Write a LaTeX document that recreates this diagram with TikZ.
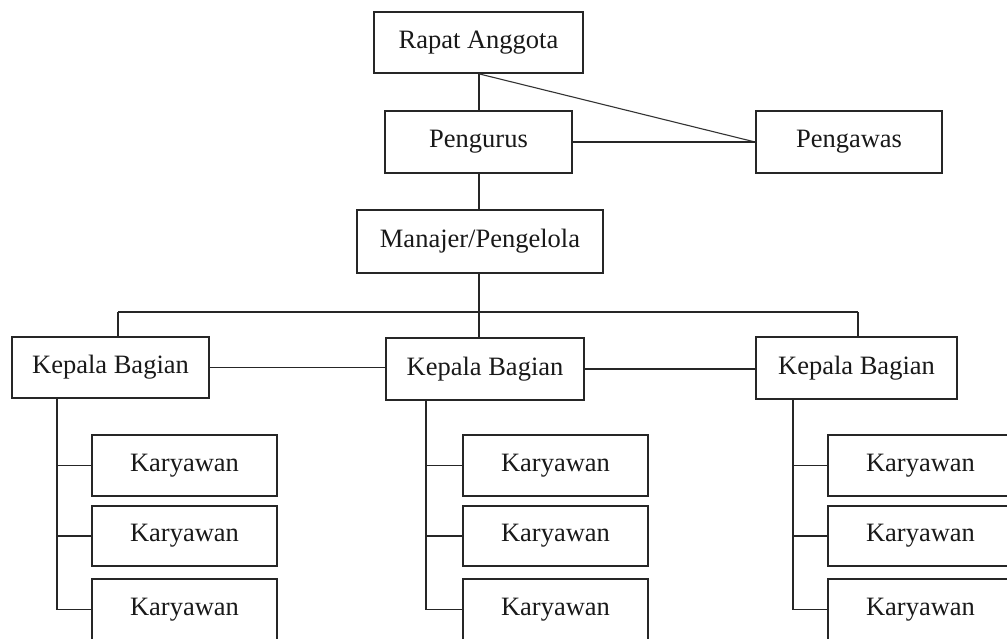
\documentclass[tikz,border=0pt]{standalone}
\usepackage{fontspec}
\setmainfont{Liberation Serif}
\begin{document}
\begin{tikzpicture}[x=1pt,y=-1pt,
  box/.style={draw=black!85, line width=1.7pt, inner sep=0pt, fill=white,
    font=\fontsize{26.5}{30}\selectfont, text=black!90},
  conn/.style={draw=black!85, line width=1.7pt},
  thin conn/.style={draw=black!80, line width=1.1pt}]
\useasboundingbox (0,0) rectangle (1007,638);
\clip (0,0) rectangle (1007,638);
\fill[white] (0,0) rectangle (1007,638);
% top level
\node[box, minimum width=209pt, minimum height=61pt] (ra) at (478.5,42.5) {Rapat Anggota};
\node[box, minimum width=187pt, minimum height=62pt] (pg) at (478.5,142) {Pengurus};
\node[box, minimum width=186pt, minimum height=62pt] (pw) at (849,142) {Pengawas};
\node[box, minimum width=246pt, minimum height=63pt] (mj) at (480,241.5) {Manajer/Pengelola};
% heads
\node[box, minimum width=197pt, minimum height=61pt] (head1) at (110.5,367.5) {Kepala Bagian};
\node[box, minimum width=198pt, minimum height=62pt] (head2) at (485,369) {Kepala Bagian};
\node[box, minimum width=201pt, minimum height=62pt] (head3) at (856.5,368) {Kepala Bagian};
% staff
\foreach \c/\n in {184.5/a, 555.5/b, 920.5/c}{
  \node[box, minimum width=185pt, minimum height=61pt] (st\n1) at (\c,465.5) {Karyawan};
  \node[box, minimum width=185pt, minimum height=60pt] (st\n2) at (\c,536) {Karyawan};
  \node[box, minimum width=185pt, minimum height=61pt] (st\n3) at (\c,609.5) {Karyawan};
}
% connectors
\coordinate (spine) at (479,0);
\coordinate (bus) at (479,312);
\coordinate (d1) at (118,312);
\coordinate (d3) at (858,312);
\draw[conn] (spine |- ra.south) -- (spine |- pg.north);
\draw[thin conn] (spine |- ra.south) -- (pw.west);
\draw[conn] (pg.east) -- (pw.west);
\draw[conn] (spine |- pg.south) -- (spine |- mj.north);
\draw[conn] (spine |- mj.south) -- (bus);
\draw[conn] (d1) -- (d3);
\draw[conn] (d1) -- (d1 |- head1.north);
\draw[conn] (bus) -- (bus |- head2.north);
\draw[conn] (d3) -- (d3 |- head3.north);
\draw[conn] (head1.east) -- (head1.east -| head2.west);
\draw[conn] (head2.east) -- (head2.east -| head3.west);
% staff trees
\coordinate (v1) at (57,0);
\coordinate (v2) at (426,0);
\coordinate (v3) at (793,0);
\foreach \v/\k/\n in {v1/head1/a, v2/head2/b, v3/head3/c}{
  \draw[conn] (\v |- \k.south) -- (\v |- st\n3.west) -- (st\n3.west);
  \draw[conn] (\v |- st\n1.west) -- (st\n1.west);
  \draw[conn] (\v |- st\n2.west) -- (st\n2.west);
}
\end{tikzpicture}
\end{document}
